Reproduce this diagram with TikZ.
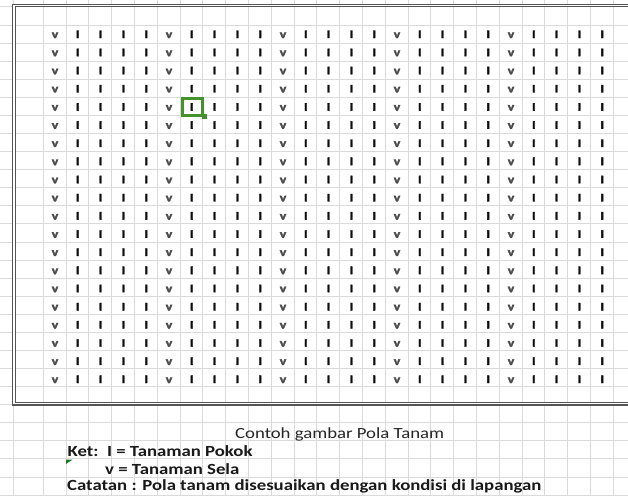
\documentclass[tikz,border=0pt]{standalone}
\usepackage{fontspec}
\setmainfont{Carlito}[FakeStretch=1.21]
\newfontfamily\gridfont{Carlito}[FakeStretch=1.2, BoldFeatures={FakeBold=3}]
\definecolor{gridc}{RGB}{218,218,218}
\definecolor{framec}{RGB}{85,85,85}
\definecolor{selc}{RGB}{68,146,46}
\definecolor{errc}{RGB}{30,120,40}
\tikzset{
  gridline/.style={draw=gridc, line width=0.9pt},
  framebox/.style={draw=framec, line width=1.2pt, double=white, double distance=1.2pt},
  plantv/.style={font=\gridfont\fontsize{11.5}{12}\selectfont\bfseries, text=black!70, inner sep=0pt, anchor=base},
  planti/.style={font=\gridfont\fontsize{11.5}{12}\selectfont\bfseries, text=black!95, inner sep=0pt, anchor=base},
  legend/.style={font=\fontsize{15.5}{17}\selectfont\bfseries, text=black!90, inner sep=0pt, anchor=base west},
  caption/.style={font=\fontsize{15.5}{17}\selectfont, text=black!85, inner sep=0pt, anchor=base west},
  selbox/.style={draw=selc, line width=2.8pt, inner sep=0pt, minimum width=19.5pt, minimum height=17.2pt},
  selhandle/.style={fill=selc, inner sep=0pt, minimum size=5pt}
}
\begin{document}
\begin{tikzpicture}[x=1pt,y=-1pt]
\clip (0,0) rectangle (628,495);
\fill[white] (0,0) rectangle (628,495);
% spreadsheet grid
\foreach \k in {-1,...,26}
  \draw[gridline] (0,{25+18.08*\k}) -- (628,{25+18.08*\k});
\foreach \k in {0,...,25}
  \draw[gridline] ({43.3+22.8*\k},0) -- ({43.3+22.8*\k},495);
\draw[gridline] (13.3,0) -- (13.3,495);
% double frame
\draw[framebox] (660,5.5) -- (14,5.5) -- (14,403.8) -- (660,403.8);
% plants
\foreach \r in {0,...,19}{
  \foreach \c in {0,...,24}{
    \pgfmathtruncatemacro\m{mod(\c,5)}
    \ifnum\m=0
      \node[plantv] (p-\r-\c) at ({55+22.8*\c},{38+18.16*\r}) {v};
    \else
      \node[planti] (p-\r-\c) at ({55+22.8*\c},{38+18.16*\r}) {I};
    \fi
  }
}
% selected cell
\node[selbox] (sel) at (192.6,107.1) {};
\node[selhandle] (handle) at ([xshift=0.3pt,yshift=0.3pt]sel.south east) {};
% error indicator
\fill[errc] (66,459.6) -- (72.5,459.6) -- (66,464) -- cycle;
% texts
\node[caption] (cap) at (235,438.3) {Contoh gambar Pola Tanam};
\node[legend] (ket) at (67.5,456.7) {Ket:\ \ I = Tanaman Pokok};
\node[legend] (sela) at (105,474.2) {v = Tanaman Sela};
\node[legend] (cat) at (67,490.5) {Catatan : Pola tanam disesuaikan dengan kondisi di lapangan};
\end{tikzpicture}
\end{document}
